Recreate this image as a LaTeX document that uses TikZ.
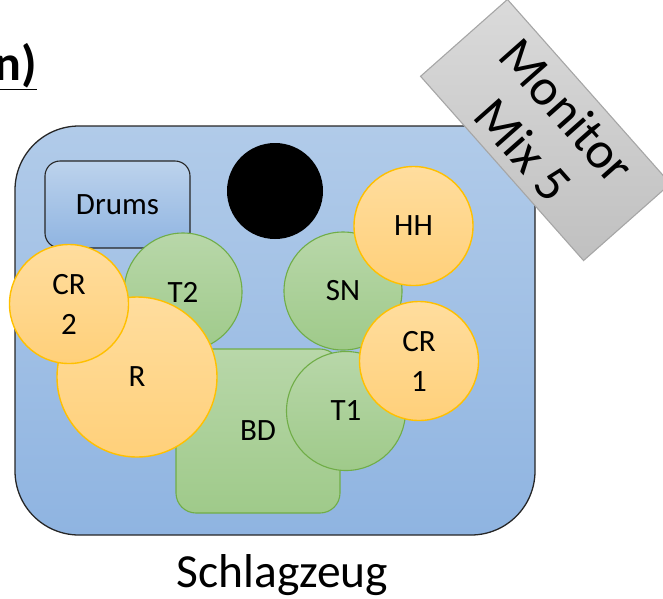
\documentclass[tikz,border=0pt]{standalone}
\usepackage{fontspec}
\setmainfont{Carlito}
\usetikzlibrary{shapes.geometric}
\definecolor{blueTop}{RGB}{177,203,233}
\definecolor{blueBot}{RGB}{143,180,225}
\definecolor{greenTop}{RGB}{184,215,169}
\definecolor{greenBot}{RGB}{159,202,138}
\definecolor{greenLine}{RGB}{112,173,71}
\definecolor{orangeTop}{RGB}{255,221,158}
\definecolor{orangeBot}{RGB}{255,208,122}
\definecolor{orangeLine}{RGB}{255,192,0}
\definecolor{grayTop}{RGB}{218,218,218}
\definecolor{grayBot}{RGB}{192,192,192}
\definecolor{grayLine}{RGB}{166,166,166}
\tikzset{
  padbox/.style={draw=black!85, line width=1.1pt, top color=blueTop!85!white, bottom color=blueBot,
    font=\fontsize{31}{40}\selectfont},
  shell/.style={circle, draw=greenLine, line width=1.1pt, top color=greenTop, bottom color=greenBot,
    inner sep=0pt, font=\fontsize{31}{40}\selectfont},
  cymbal/.style={circle, draw=orangeLine, line width=1.4pt, top color=orangeTop, bottom color=orangeBot,
    inner sep=0pt, minimum size=119pt, align=center, font=\fontsize{31}{40}\selectfont},
  monbox/.style={draw=grayLine, line width=1.1pt, top color=grayTop, bottom color=grayBot,
    inner sep=0pt, align=center, font=\fontsize{52}{58}\selectfont}
}
\begin{document}
\begin{tikzpicture}[x=1pt, y=-1pt]
			%%%%% START %%%%%
			\useasboundingbox (0,0) rectangle (663,598);
			
			\draw[line width=1.3pt, color=black!85, top color=blueTop, bottom color=blueBot, rounded corners=64pt] (15,126) rectangle (535,535);
			
			\node[padbox, minimum width=145pt, minimum height=87pt, rounded corners=15pt] (drums) at (117.5,204.5) {Drums};
			\node[circle, fill=black, minimum size=96pt, inner sep=0pt] (mic) at (275,191) {};
			
			\node[shell, rectangle, rounded corners=20pt, minimum width=164pt, minimum height=164pt] (bd) at (258,431) {BD};
			\node[shell, minimum size=118pt] (t2) at (183,292) {T2};
			\node[shell, minimum size=118pt] (sn) at (343,291) {SN};
			\node[shell, minimum size=119pt] (t1) at (346,411) {T1};
			
			\node[cymbal, minimum size=160pt] (r) at (137,377) {R};
			\node[cymbal] (cr2) at (69,304) {CR\\2};
			\node[cymbal] (hh) at (413.5,226) {HH};
			\node[cymbal] (cr1) at (419,361) {CR\\1};
			
			\node[monbox, rotate=-48.5, minimum width=246pt, minimum height=116pt] (mon) at (545.5,130) {Monitor\\Mix 5};
			
			\node[anchor=base, font=\fontsize{47.5}{50}\selectfont] (title) at (282.5,587) {Schlagzeug};
			\node[anchor=base east, inner sep=0pt, font=\bfseries\fontsize{50}{54}\selectfont] (head) at (37,80) {\underline{n)}};
			%%%%% END %%%%%
\end{tikzpicture}
\end{document}
